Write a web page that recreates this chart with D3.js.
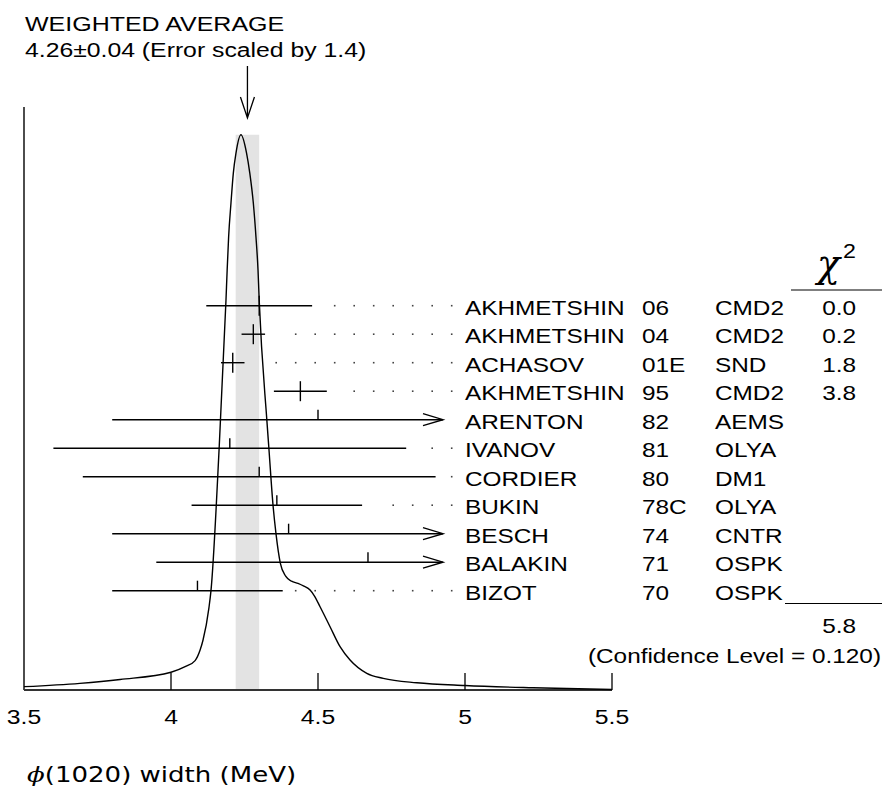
<!DOCTYPE html>
<html>
<head>
<meta charset="utf-8">
<script src="https://cdn.jsdelivr.net/npm/d3@7"></script>
<style>
  html, body { margin: 0; padding: 0; background: #ffffff; }
  svg { display: block; }
</style>
</head>
<body>
<div id="chart"></div>
<script>
// measurements, top to bottom
const authors = ["AKHMETSHIN", "AKHMETSHIN", "ACHASOV", "AKHMETSHIN", "ARENTON", "IVANOV",
  "CORDIER", "BUKIN", "BESCH", "BALAKIN", "BIZOT"];
const years = ["06", "04", "01E", "95", "82", "81", "80", "78C", "74", "71", "70"];
const experiments = ["CMD2", "CMD2", "SND", "CMD2", "AEMS", "OLYA", "DM1", "OLYA", "CNTR", "OSPK", "OSPK"];
const values = [4.30, 4.28, 4.21, 4.44, 4.50, 4.20, 4.30, 4.36, 4.40, 4.67, 4.09];
const errors = [0.18, 0.04, 0.04, 0.09, 0.70, 0.60, 0.60, 0.29, 0.60, 0.72, 0.29];
const chi2 = ["0.0", "0.2", "1.8", "3.8", "", "", "", "", "", "", ""];
const usedInFit = [true, true, true, true, false, false, false, false, false, false, false];

const average = 4.26;
const averageError = 0.04;
const chi2Total = "5.8";
const confidenceLevel = "0.120";

const xTicks = [3.5, 4, 4.5, 5, 5.5];
const xTickLabels = ["3.5", "4", "4.5", "5", "5.5"];

// ideogram (relative height, peak = 1)
const curveX = [3.500, 3.690, 3.827, 4.000, 4.048, 4.082, 4.099, 4.109, 4.129, 4.136, 4.164,
  4.187, 4.191, 4.196, 4.204, 4.212, 4.221, 4.238, 4.257, 4.268, 4.280, 4.289, 4.296, 4.300,
  4.326, 4.333, 4.347, 4.357, 4.372, 4.390, 4.410, 4.432, 4.452, 4.473, 4.487, 4.507, 4.541,
  4.575, 4.609, 4.666, 4.722, 4.836, 5.000, 5.231, 5.500];
const curveY = [0.006, 0.012, 0.019, 0.032, 0.042, 0.053, 0.072, 0.090, 0.148, 0.179, 0.438,
  0.702, 0.756, 0.816, 0.877, 0.931, 0.967, 1.000, 0.967, 0.931, 0.877, 0.816, 0.756, 0.702,
  0.486, 0.435, 0.333, 0.282, 0.228, 0.205, 0.196, 0.192, 0.187, 0.180, 0.170, 0.150, 0.114,
  0.078, 0.054, 0.030, 0.021, 0.013, 0.008, 0.004, 0.001];

const width = 883;
const height = 788;
const font = "'Liberation Sans', Arial, Helvetica, sans-serif";
const stretch = 1.16;

const svg = d3.select("#chart")
  .append("svg")
  .attr("width", width)
  .attr("height", height)
  .attr("viewBox", `0 0 ${width} ${height}`);

const x = d3.scaleLinear().domain([3.5, 5.5]).range([24, 612]);
const y = d3.scaleLinear().domain([0, 1.05]).range([690, 107]);
const rowKeys = authors.map((a, i) => `${a} ${years[i]}`);
const row = d3.scalePoint().domain(rowKeys).range([305.7, 590.7]);

const labelX = 465;
const clipX = labelX - 22;

// text helper: fonts in the reference are drawn a bit wider than Arial
function addText(parent, px, py, str, opts = {}) {
  const g = parent.append("g")
    .attr("transform", `translate(${px},${py}) scale(${opts.sx || stretch},1)`);
  return g.append("text")
    .attr("x", 0)
    .attr("y", 0)
    .attr("text-anchor", opts.anchor || "start")
    .attr("font-family", opts.family || font)
    .attr("font-style", opts.italic ? "italic" : "normal")
    .attr("font-size", opts.size || 21)
    .attr("fill", "#000")
    .text(str);
}

// weighted average band
svg.append("rect")
  .attr("x", x(average - averageError))
  .attr("y", y(1))
  .attr("width", x(average + averageError) - x(average - averageError))
  .attr("height", y(0) - y(1))
  .attr("fill", "#e3e3e3");

// axes
svg.append("line")
  .attr("x1", x(3.5)).attr("x2", x(3.5))
  .attr("y1", y(1.05)).attr("y2", y(0))
  .attr("stroke", "#000").attr("stroke-width", 1.4);

svg.append("line")
  .attr("x1", x(3.5)).attr("x2", x(5.5))
  .attr("y1", y(0)).attr("y2", y(0))
  .attr("stroke", "#333").attr("stroke-width", 1.8);

svg.selectAll("line.tick")
  .data(xTicks.slice(1))
  .join("line")
  .attr("class", "tick")
  .attr("x1", d => x(d)).attr("x2", d => x(d))
  .attr("y1", y(0)).attr("y2", y(0) - 17)
  .attr("stroke", "#000").attr("stroke-width", 1.3);

xTicks.forEach((t, i) => {
  addText(svg, x(t), 724, xTickLabels[i], { anchor: "middle", size: 19.5, sx: 1.27 });
});

// ideogram curve
const curvePoints = curveX.map((cx, i) => [cx, curveY[i]]);
svg.append("path")
  .datum(curvePoints)
  .attr("fill", "none")
  .attr("stroke", "#000")
  .attr("stroke-width", 1.4)
  .attr("d", d3.line()
    .x(d => x(d[0]))
    .y(d => y(d[1]))
    .curve(d3.curveMonotoneX));

// arrow to the average
const ax = x(average);
svg.append("path")
  .attr("d", `M${ax},66 L${ax},118 M${ax - 7},97 L${ax},118 L${ax + 7},97`)
  .attr("fill", "none")
  .attr("stroke", "#000")
  .attr("stroke-width", 1.3);

addText(svg, 25, 31, "WEIGHTED AVERAGE", { sx: 1.19 });
addText(svg, 25, 57, "4.26\u00B10.04 (Error scaled by 1.4)", { sx: 1.18 });

// measurements
const rows = svg.append("g");
values.forEach((v, i) => {
  const ry = row(rowKeys[i]);
  const lo = x(v - errors[i]);
  const hiRaw = x(v + errors[i]);
  const hi = Math.min(hiRaw, clipX);
  const clipped = hiRaw > clipX;

  rows.append("line")
    .attr("x1", lo).attr("x2", hi)
    .attr("y1", ry).attr("y2", ry)
    .attr("stroke", "#000").attr("stroke-width", 1.4);

  rows.append("line")
    .attr("x1", x(v)).attr("x2", x(v))
    .attr("y1", ry - 10).attr("y2", usedInFit[i] ? ry + 10 : ry)
    .attr("stroke", "#000").attr("stroke-width", 1.4);

  if (clipped) {
    rows.append("path")
      .attr("d", `M${hi - 20},${ry - 6} L${hi},${ry} L${hi - 20},${ry + 6}`)
      .attr("fill", "none")
      .attr("stroke", "#000").attr("stroke-width", 1.4);
  } else {
    for (let dx = labelX - 13.3; dx > hi + 12.5; dx -= 19.5) {
      rows.append("rect")
        .attr("x", dx - 0.8).attr("y", ry - 0.8)
        .attr("width", 1.6).attr("height", 1.6)
        .attr("fill", "#444");
    }
  }

  addText(rows, labelX, ry + 9, authors[i]);
  addText(rows, 642, ry + 9, years[i]);
  addText(rows, 715, ry + 9, experiments[i]);
  if (chi2[i]) addText(rows, 856, ry + 9, chi2[i], { anchor: "end" });
});

// chi-square column
addText(svg, 817, 277, "\u03C7", {
  family: "'DejaVu Serif', 'Liberation Serif', serif", italic: true, size: 40, sx: 0.95
});
addText(svg, 843, 258, "2", { size: 20 });
svg.append("line")
  .attr("x1", 791).attr("x2", 882)
  .attr("y1", 290).attr("y2", 290)
  .attr("stroke", "#000").attr("stroke-width", 1.2);
svg.append("line")
  .attr("x1", 785).attr("x2", 882)
  .attr("y1", 603.5).attr("y2", 603.5)
  .attr("stroke", "#000").attr("stroke-width", 1.2);
addText(svg, 856, 633, chi2Total, { anchor: "end" });
addText(svg, 881, 663, `(Confidence Level = ${confidenceLevel})`, { anchor: "end" });

// axis title
const title = svg.append("g")
  .attr("transform", "translate(27,782) scale(1.24,1)")
  .append("text")
  .attr("font-family", "'DejaVu Sans', sans-serif")
  .attr("font-size", 21)
  .attr("fill", "#000");
title.append("tspan")
  .attr("font-family", "'DejaVu Serif', serif")
  .attr("font-style", "italic")
  .text("\u03D5");
title.append("tspan").text("(1020) width (MeV)");
</script>
</body>
</html>
